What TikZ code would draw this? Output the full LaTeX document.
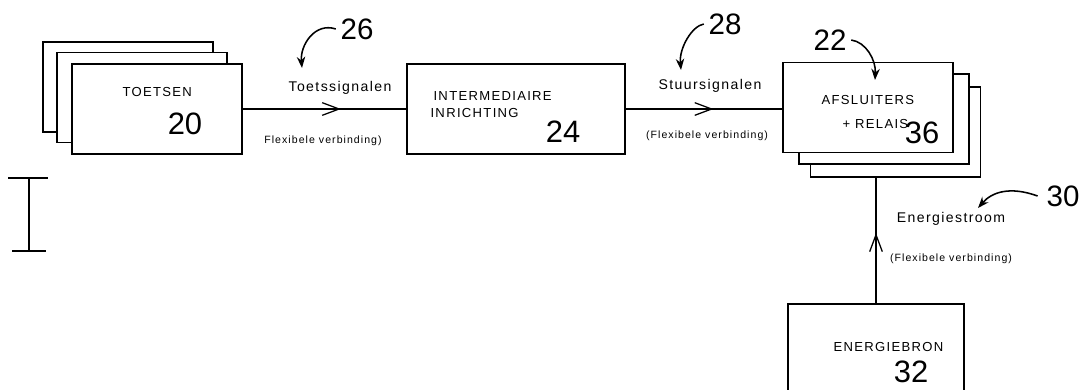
\documentclass[tikz,border=0pt]{standalone}
\usepackage{fontspec}
\setmainfont{Liberation Sans}
\newfontfamily\spacedfont[LetterSpace=10]{Liberation Sans}
\usetikzlibrary{positioning, arrows.meta, decorations.markings}

\begin{document}
\begin{tikzpicture}[
    x=0.025cm, y=-0.025cm,
    line width=0.8pt,
    box/.style={draw, fill=white, minimum width=4.25cm, minimum height=2.25cm, inner sep=0pt},
    boxtxt/.style={anchor=west, font=\spacedfont\fontsize{9.3}{11}\selectfont, inner sep=0pt},
    boxnum/.style={font=\fontsize{22}{24}\selectfont, inner sep=0pt},
    refnum/.style={font=\fontsize{21}{23}\selectfont, inner sep=3pt},
    sigtxt/.style={font=\spacedfont\fontsize{10}{12}\selectfont, inner sep=0pt},
    flextxt/.style={font=\spacedfont\fontsize{7.5}{9}\selectfont, inner sep=0pt},
    flow/.style={decoration={markings, mark=at position #1 with {\arrow{Straight Barb[length=12pt, width=9pt, line width=0.9pt]}}}, postaction={decorate}},
    pointer/.style={-{Stealth[length=8pt, width=6pt]}, line width=1.1pt},
]
\useasboundingbox (0,0) rectangle (1084,389);

% Stack of key boards
\node[box] (toetsC) at (128,87) {};
\node[box] (toetsB) at (142,97.5) {};
\node[box] (toetsA) at (157,109) {};
\node[boxtxt] (toetsLbl) at (122,92) {TOETSEN};
\node[boxnum] (toetsNum) at (185,124) {20};

% Intermediate unit
\node[box, minimum width=5.45cm] (inter) at (516,109) {};
\node[boxtxt] (interLblA) at (433,95.5) {INTERMEDIAIRE};
\node[boxtxt] (interLblB) at (430,113) {INRICHTING};
\node[boxnum] (interNum) at (563,132) {24};

% Stack of valves and relays
\node[box] (afslC) at (895.5,132) {};
\node[box] (afslB) at (884,119) {};
\node[box] (afslA) at (868,107.5) {};
\node[boxtxt] (afslLblA) at (821,100) {AFSLUITERS};
\node[boxtxt] (afslLblB) at (842,124) {+ RELAIS};
\node[boxnum] (afslNum) at (922,133) {36};

% Energy source
\node[box, minimum width=4.4cm] (ebron) at (876,349) {};
\node[boxtxt] (ebronLbl) at (833,347) {ENERGIEBRON};
\node[boxnum] (ebronNum) at (911,372) {32};

% Connections
\draw[flow=0.6] (toetsA.east) -- (inter.west);
\draw[flow=0.56] (inter.east) -- (inter.east -| afslA.west);
\draw[flow=0.56] (ebron.north) -- (ebron.north |- afslC.south);

\node[sigtxt] (toetsSig) at (340,88) {Toetssignalen};
\node[flextxt] (toetsFlex) at (323,141) {Flexibele verbinding)};
\node[sigtxt] (stuurSig) at (710,86) {Stuursignalen};
\node[flextxt] (stuurFlex) at (707,136) {(Flexibele verbinding)};
\node[sigtxt] (energieSig) at (951,219) {Energiestroom};
\node[flextxt] (energieFlex) at (951,259) {(Flexibele verbinding)};

% Reference numerals
\node[refnum] (ref26) at (357,29) {26};
\coordinate (tip26) at (302,68);
\draw[pointer] (ref26.west) .. controls (315,22) and (300,45) .. (tip26);
\node[refnum] (ref28) at (725,24) {28};
\coordinate (tip28) at (681,70);
\draw[pointer] (ref28.west) .. controls (692,26) and (679,48) .. (tip28);
\node[refnum] (ref22) at (830,40) {22};
\coordinate (tip22) at (875,80);
\draw[pointer] (ref22.east) .. controls (866,42) and (876,60) .. (tip22);
\node[refnum, inner sep=6pt] (ref30) at (1063,196) {30};
\coordinate (tip30) at (978,208);
\draw[pointer] (ref30.west) .. controls (1010,186) and (992,192) .. (tip30);

% Scale mark
\draw (8,178) -- (48,178) (29,178) -- (29,251) (12,251) -- (46,251);

\end{tikzpicture}
\end{document}
